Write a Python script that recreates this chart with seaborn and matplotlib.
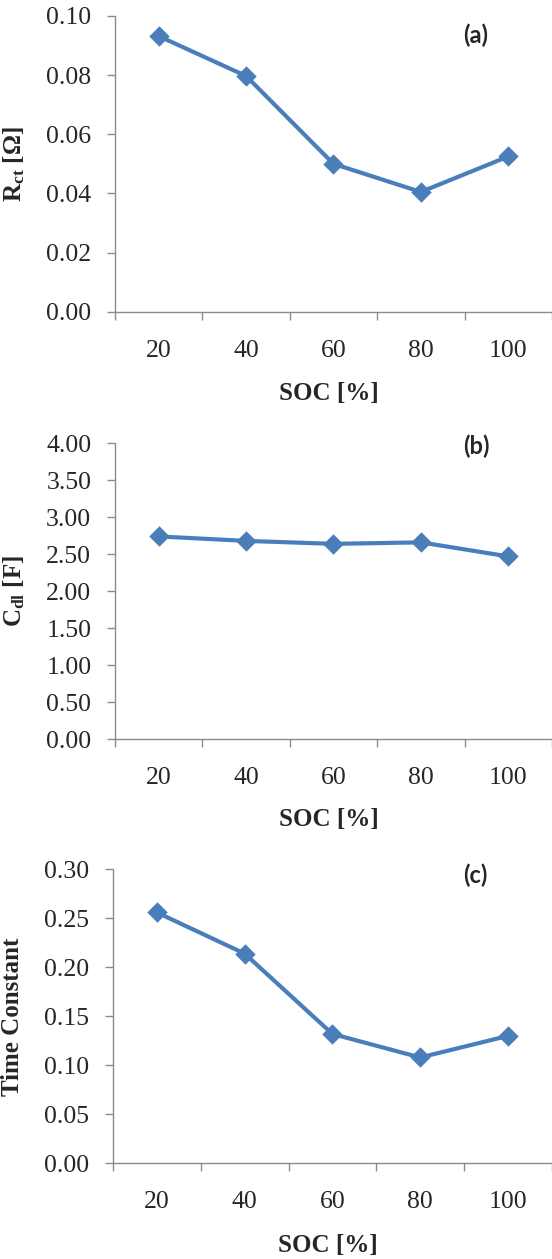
import matplotlib
matplotlib.use("Agg")
from matplotlib import pyplot as plt
from matplotlib.ticker import FixedLocator, FormatStrFormatter
import seaborn as sns

soc = ["20", "40", "60", "80", "100"]
rct = [0.0932, 0.0797, 0.0500, 0.0405, 0.0525]
cdl = [2.74, 2.68, 2.64, 2.66, 2.47]
tau = [0.256, 0.214, 0.132, 0.108, 0.130]

sns.set_style("white")
plt.rcParams["font.family"] = ["Liberation Serif", "DejaVu Serif"]
plt.rcParams["mathtext.fontset"] = "custom"
plt.rcParams["mathtext.rm"] = "Liberation Serif"
plt.rcParams["mathtext.bf"] = "Liberation Serif:bold"

blue = "#4A7EBB"
grey = "#8C8C8C"

fig = plt.figure(figsize=(5.52, 12.59), dpi=100)

panels = [
    # rect, values, ymax, step, ylabel, tag, tag pos, xlabel y
    ([0.2083, 0.7524, 0.7917, 0.2349], rct, 0.10, 0.02, r"$\mathbf{R_{ct}}$ [Ω]", "(a)", (0.826, 0.936), -0.238),
    ([0.2083, 0.4130, 0.7917, 0.2349], cdl, 4.00, 0.50, r"$\mathbf{C_{dl}}$ [F]", "(b)", (0.826, 0.99), -0.232),
    ([0.2047, 0.0760, 0.7950, 0.2335], tau, 0.30, 0.05, "Time Constant", "(c)", (0.826, 0.98), -0.24),
]

for rect, vals, ymax, step, ylab, tag, tagpos, xly in panels:
    ax = fig.add_axes(rect)
    sns.pointplot(x=soc, y=vals, ax=ax, color=blue, marker="D",
                  markersize=8, linewidth=3, errorbar=None)
    ax.set_xlim(-0.5, 4.5)
    ax.set_ylim(0, ymax)
    n = int(round(ymax / step))
    ax.set_yticks([i * step for i in range(n + 1)])
    ax.yaxis.set_major_formatter(FormatStrFormatter("%.2f"))

    # excel-style: tick marks between categories, labels at centres
    ax.xaxis.set_minor_locator(FixedLocator([i - 0.5 for i in range(len(soc) + 1)]))
    ax.tick_params(axis="x", which="major", length=0, pad=20, labelsize=18.5)
    ax.tick_params(axis="x", which="minor", length=6, width=1, color=grey, direction="out")
    ax.tick_params(axis="y", length=6, width=1, color=grey, direction="out", pad=11, labelsize=18.5)
    ax.tick_params(bottom=True, left=True, which="both")

    for s in ["top", "right"]:
        ax.spines[s].set_visible(False)
    for s in ["left", "bottom"]:
        ax.spines[s].set_color(grey)
        ax.spines[s].set_linewidth(1)

    ax.set_xlabel("SOC [%]", fontsize=18, fontweight="bold")
    ax.xaxis.set_label_coords(0.49, xly)
    ax.set_ylabel(ylab, fontsize=18, fontweight="bold")
    ax.yaxis.set_label_coords(-0.202, 0.5)
    ax.grid(False)

    ax.text(tagpos[0], tagpos[1], tag, transform=ax.transAxes, ha="center", va="center",
            fontsize=17, fontweight="bold", family=["Lato", "DejaVu Sans"])

fig.savefig("out.png", dpi=100)
